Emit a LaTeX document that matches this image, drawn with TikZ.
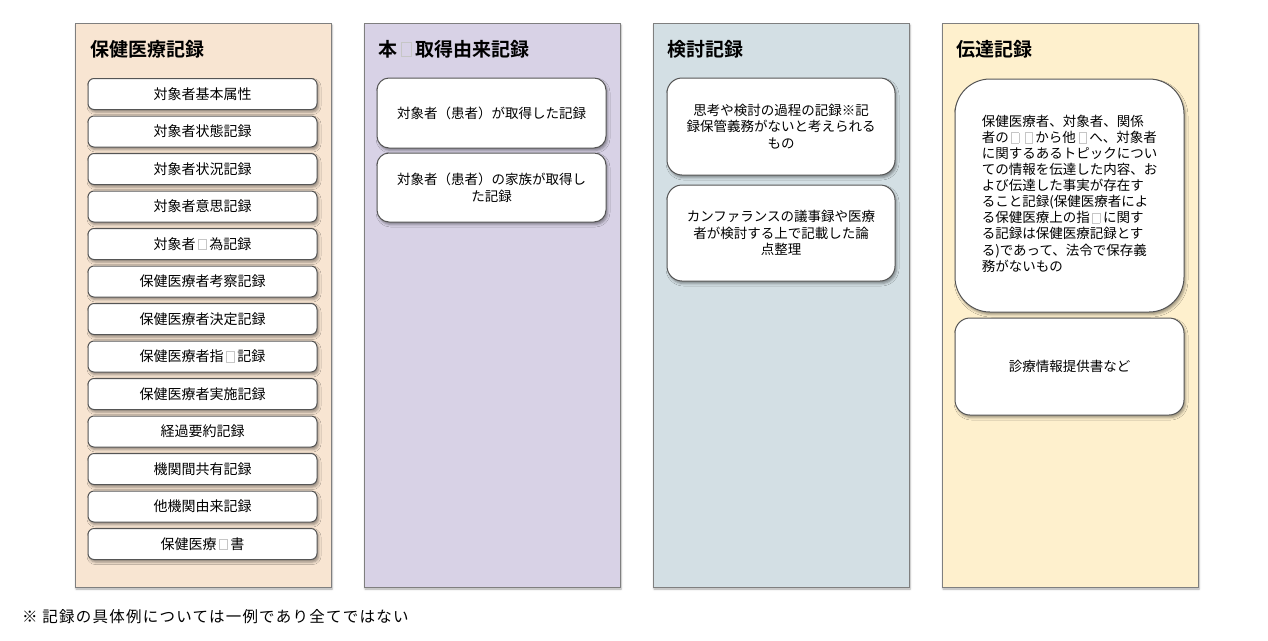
\documentclass[tikz,border=0pt]{standalone}
\usepackage{fontspec}
\setmainfont{Noto Sans CJK JP}[BoldFont={Noto Sans CJK JP Bold}]
\usetikzlibrary{shadows.blur}
\definecolor{colA}{HTML}{F8E5D2}
\definecolor{colB}{HTML}{D8D2E6}
\definecolor{colC}{HTML}{D3DFE4}
\definecolor{colD}{HTML}{FEF0CD}
\definecolor{bord}{HTML}{7F7F7F}
\definecolor{boxbord}{HTML}{555555}
\newcommand\miss{\kern0.2em{\color{gray!45}\setlength\fboxsep{0pt}\setlength\fboxrule{0.6pt}\fbox{\rule{0pt}{0.72em}\rule{0.5em}{0pt}}}\kern0.2em}
\tikzset{
  colbox/.style={draw=bord, line width=0.9pt, minimum width=256pt, minimum height=564pt, inner sep=0pt,
    blur shadow={shadow xshift=1pt, shadow yshift=-2pt, shadow blur radius=2pt, shadow opacity=35}},
  coltitle/.style={anchor=west, font=\fontsize{19}{21}\selectfont\bfseries, inner sep=0pt},
  itembox/.style={draw=boxbord, fill=white, line width=1pt, inner sep=0pt, align=center,
    blur shadow={shadow xshift=1.5pt, shadow yshift=-2.5pt, shadow blur radius=2.5pt, shadow opacity=40}},
  smallitem/.style={itembox, minimum width=229pt, minimum height=31pt, rounded corners=6pt,
    font=\fontsize{14}{16}\selectfont},
  bigitem/.style={itembox, font=\fontsize{13.5}{16.7}\selectfont},
  note/.style={anchor=west, inner sep=0pt, font=\fontsize{15.5}{17}\selectfont\addfontfeature{LetterSpace=8}}
}
\begin{document}
\begin{tikzpicture}[x=1pt,y=-1pt]
\useasboundingbox (0,0) rectangle (1268,640);
% columns
\node[colbox, fill=colA] (colA) at (203,305) {};
\node[colbox, fill=colB] (colB) at (492,305) {};
\node[colbox, fill=colC] (colC) at (781,305) {};
\node[colbox, fill=colD] (colD) at (1070,305) {};
% titles
\node[coltitle] (tA) at (90,49) {保健医療記録};
\node[coltitle] (tB) at (378,49) {本\miss 取得由来記録};
\node[coltitle] (tC) at (667,49) {検討記録};
\node[coltitle] (tD) at (956,49) {伝達記録};
% column 1 items
\node[smallitem] (a1) at (202.5,94) {対象者基本属性};
\node[smallitem] (a2) at (202.5,131.5) {対象者状態記録};
\node[smallitem] (a3) at (202.5,169) {対象者状況記録};
\node[smallitem] (a4) at (202.5,206.5) {対象者意思記録};
\node[smallitem] (a5) at (202.5,244) {対象者\miss 為記録};
\node[smallitem] (a6) at (202.5,281.5) {保健医療者考察記録};
\node[smallitem] (a7) at (202.5,319) {保健医療者決定記録};
\node[smallitem] (a8) at (202.5,356.5) {保健医療者指\miss 記録};
\node[smallitem] (a9) at (202.5,394) {保健医療者実施記録};
\node[smallitem] (a10) at (202.5,431.5) {経過要約記録};
\node[smallitem] (a11) at (202.5,469) {機関間共有記録};
\node[smallitem] (a12) at (202.5,506.5) {他機関由来記録};
\node[smallitem] (a13) at (202.5,544) {保健医療\miss 書};
% column 2 items
\node[bigitem, minimum width=229pt, minimum height=70pt, rounded corners=12pt] (b1) at (491.5,113) {対象者（患者）が取得した記録};
\node[bigitem, minimum width=229pt, minimum height=69pt, rounded corners=12pt] (b2) at (491.5,187.5) {対象者（患者）の家族が取得し\\た記録};
% column 3 items
\node[bigitem, minimum width=228pt, minimum height=97pt, rounded corners=15pt] (c1) at (781,126.5) {思考や検討の過程の記録※記\\録保管義務がないと考えられる\\もの};
\node[bigitem, minimum width=228pt, minimum height=96pt, rounded corners=15pt] (c2) at (781,233) {カンファランスの議事録や医療\\者が検討する上で記載した論\\点整理};
% column 4 items
\node[bigitem, align=left, minimum width=229pt, minimum height=233pt, rounded corners=35pt, font=\fontsize{13.5}{15.8}\selectfont] (d1) at (1069.5,195.5) {\raisebox{4pt}{\begin{tabular}{@{}l@{}}保健医療者、対象者、関係\\者の\miss\miss から他\miss へ、対象者\\に関するあるトピックについ\\ての情報を伝達した内容、お\\よび伝達した事実が存在す\\ること記録(保健医療者によ\\る保健医療上の指\miss に関す\\る記録は保健医療記録とす\\る)であって、法令で保存義\\務がないもの\end{tabular}}};
\node[bigitem, minimum width=229pt, minimum height=97pt, rounded corners=15pt] (d2) at (1069.5,366.5) {診療情報提供書など};
% footnote
\node[note] (fn) at (22,617) {※ 記録の具体例については一例であり全てではない};
\end{tikzpicture}
\end{document}
